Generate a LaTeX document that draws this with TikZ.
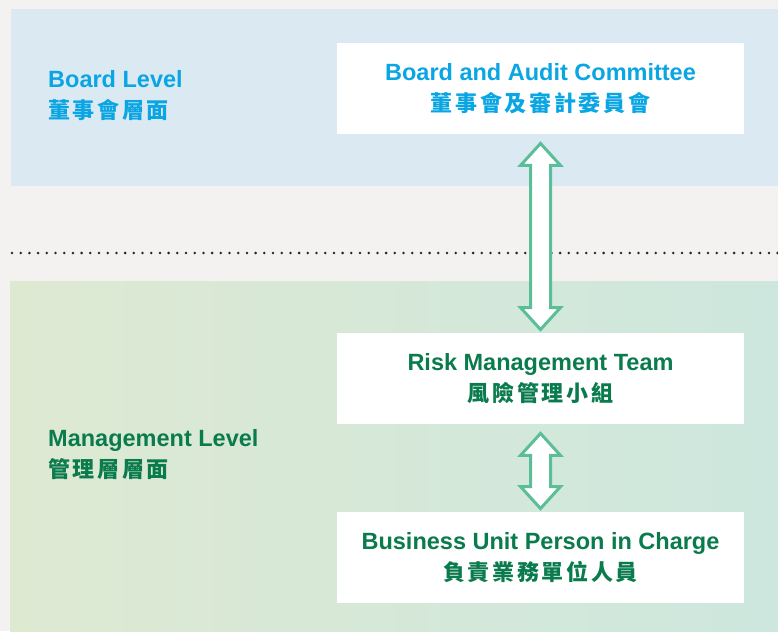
\documentclass[tikz,border=0pt]{standalone}
\usepackage{fontspec}
\setmainfont{Liberation Sans}
\newfontfamily\cjk{Noto Sans CJK TC}[LetterSpace=12]
\usetikzlibrary{calc}

\definecolor{boardblue}{HTML}{0AA5E3}
\definecolor{mgmtgreen}{HTML}{0A7B4D}
\definecolor{arrowgreen}{HTML}{5BBE98}
\definecolor{bandblue}{HTML}{DBE9F2}
\definecolor{bandleft}{HTML}{DEE9D2}
\definecolor{bandright}{HTML}{CDE7DE}
\definecolor{paper}{HTML}{F3F2F1}

% hollow double arrow from one box down to the next
\newcommand{\twoway}[2]{%
  \draw[twoarrow] let \p1=($(#1.south)+(0,9)$), \p2=($(#2.north)+(0,-3)$) in
    (\x1,\y1) -- ++(20pt,-22pt) -- ++(-10pt,0pt) -- (\x1+10pt,\y2+22pt) -- ++(10pt,0pt)
    -- (\x1,\y2) -- ++(-20pt,22pt) -- ++(10pt,0pt) -- (\x1-10pt,\y1-22pt) -- ++(-10pt,0pt) -- cycle;}

\begin{document}
\begin{tikzpicture}[x=1pt, y=-1pt,
    every node/.style={font=\fontsize{23.5}{31}\selectfont\bfseries},
    box/.style={fill=white, minimum width=407pt, minimum height=91.5pt, inner sep=0pt, align=center},
    level/.style={anchor=north west, inner sep=0pt, align=left},
    twoarrow/.style={draw=arrowgreen, line width=3pt, fill=white, line join=miter},
    dotline/.style={black!85, line width=2.8pt, line cap=round, dash pattern=on 0pt off 8.7pt}]
    \useasboundingbox (0,0) rectangle (778,631);

    % Background bands
    \fill[paper] (0,0) rectangle (778,631);
    \fill[bandblue] (11,9) rectangle (778,185.5);
    \shade[left color=bandleft, right color=bandright] (10,281) rectangle (778,631);
    \draw[dotline] (12,253) -- (778,253);

    % Levels
    \node[level, text=boardblue] (board) at (48,70)
        {Board Level\\{\cjk\fontsize{22}{31}\selectfont 董事會層面}};
    \node[level, text=mgmtgreen] (mgmt) at (48,429)
        {Management Level\\{\cjk\fontsize{22}{31}\selectfont 管理層層面}};

    % Nodes
    \node[box, text=boardblue] (audit) at (540.5,88.5)
        {Board and Audit Committee\\{\cjk\fontsize{22}{31}\selectfont 董事會及審計委員會}};
    \node[box, text=mgmtgreen] (risk) at (540.5,378.5)
        {Risk Management Team\\{\cjk\fontsize{22}{31}\selectfont 風險管理小組}};
    \node[box, text=mgmtgreen] (unit) at (540.5,557.5)
        {Business Unit Person in Charge\\{\cjk\fontsize{22}{31}\selectfont 負責業務單位人員}};

    % Arrows
    \twoway{audit}{risk}
    \twoway{risk}{unit}
\end{tikzpicture}
\end{document}
